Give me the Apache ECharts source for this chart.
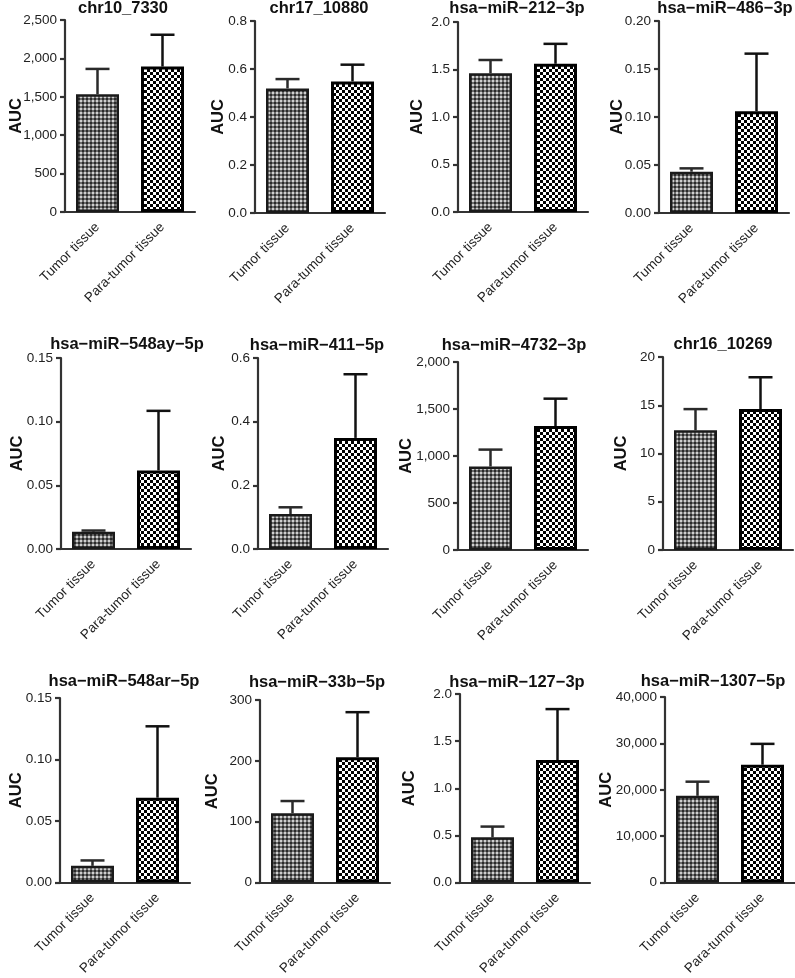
<!DOCTYPE html>
<html><head><meta charset="utf-8">
<script src="https://cdn.jsdelivr.net/npm/echarts@6/dist/echarts.min.js"></script>
<style>html,body{margin:0;padding:0;background:#fff}#c{width:795px;height:978px}</style>
</head><body><div id="c"></div>
<script>
// ---------- data ----------
const titles = ['chr10_7330','chr17_10880','hsa\u2212miR\u2212212\u22123p','hsa\u2212miR\u2212486\u22123p',
  'hsa\u2212miR\u2212548ay\u22125p','hsa\u2212miR\u2212411\u22125p','hsa\u2212miR\u22124732\u22123p','chr16_10269',
  'hsa\u2212miR\u2212548ar\u22125p','hsa\u2212miR\u221233b\u22125p','hsa\u2212miR\u2212127\u22123p','hsa\u2212miR\u22121307\u22125p'];
const categories = ['Tumor tissue','Para-tumor tissue'];
const tumorMean = [1533, 0.519, 1.46, 0.043, 0.0135, 0.110, 888, 12.4, 0.0136, 114, 0.48, 18700];
const tumorErr  = [330, 0.039, 0.14, 0.0035, 0.0010, 0.021, 180, 2.2, 0.0044, 20, 0.114, 3050];
const paraMean  = [1893, 0.548, 1.56, 0.106, 0.0617, 0.349, 1318, 14.6, 0.069, 206, 1.30, 25400];
const paraErr   = [415, 0.070, 0.21, 0.060, 0.0468, 0.200, 292, 3.3, 0.058, 74, 0.54, 4500];
const axisMax   = [2500, 0.8, 2, 0.2, 0.15, 0.6, 2000, 20, 0.15, 300, 2, 40000];
const axisStep  = [500, 0.2, 0.5, 0.05, 0.05, 0.2, 500, 5, 0.05, 100, 0.5, 10000];
const labelDecimals = [0, 1, 1, 2, 2, 1, 0, 0, 2, 0, 1, 0];
const yName = 'AUC';

// ---------- layout (pixels) ----------
// [gridLeft, gridTop, zeroY, titleCenterX, titleTop, nameGap]
const layout = [
  [65, 20, 212, 123, 0, 40],
  [255, 21, 213, 319, 0, 28],
  [458, 22, 212, 517, 0, 32],
  [659, 21, 213, 725, 0, 33],
  [61, 358, 549, 127, 336, 35],
  [258, 358, 549, 317, 337, 30],
  [458, 362, 550, 514, 337, 43],
  [663, 357, 550, 723, 336, 33],
  [60, 698, 889, 124, 673, 35],
  [260, 700, 888, 317, 674, 39],
  [460, 694, 888, 517, 674, 42],
  [665, 697, 888, 713, 673, 50]
];
const gridW = 130;
const FONT = '"Liberation Sans", Arial, sans-serif';

// ---------- patterns ----------
function tumorPattern() {
  const c = document.createElement('canvas'); c.width = 4; c.height = 4;
  const g = c.getContext('2d');
  g.fillStyle = '#6c6c6c'; g.fillRect(0, 0, 4, 4);
  g.fillStyle = '#cfcfcf'; g.fillRect(0, 0, 2, 2);
  g.fillStyle = '#2a2a2a'; g.fillRect(2, 2, 2, 2);
  return c;
}
function paraPattern() {
  const c = document.createElement('canvas'); c.width = 6; c.height = 6;
  const g = c.getContext('2d');
  g.fillStyle = '#ffffff'; g.fillRect(0, 0, 6, 6);
  g.fillStyle = '#000000'; g.fillRect(0, 0, 3, 3); g.fillRect(3, 3, 3, 3);
  return c;
}
const tPat = tumorPattern(), pPat = paraPattern();

function fmt(v, d) {
  if (d === 0) return String(Math.round(v)).replace(/\B(?=(\d{3})+(?!\d))/g, ',');
  return Number(v).toFixed(d);
}

const title = [], grid = [], xAxis = [], yAxis = [], series = [];
for (let i = 0; i < 12; i++) {
  const [gl, gt, zy, tcx, tt, ng] = layout[i];
  title.push({ text: titles[i], left: tcx, top: tt, textAlign: 'center', padding: 0,
    textStyle: { fontFamily: FONT, fontSize: 16.5, fontWeight: 'bold', color: '#111' } });
  grid.push({ left: gl, top: gt, width: gridW, height: zy - gt, containLabel: false });
  xAxis.push({ type: 'category', gridIndex: i, data: categories,
    axisLine: { lineStyle: { color: '#333', width: 2.2 } },
    axisTick: { alignWithLabel: true, length: 7, lineStyle: { color: '#333', width: 2.2 } },
    axisLabel: { rotate: 45, margin: 13, fontFamily: FONT, fontSize: 13.5, color: '#222', interval: 0 } });
  yAxis.push({ type: 'value', gridIndex: i, min: 0, max: axisMax[i], interval: axisStep[i],
    name: yName, nameLocation: 'middle', nameGap: ng, nameMoveOverlap: false,
    nameTextStyle: { fontFamily: FONT, fontSize: 16.5, fontWeight: 'bold', color: '#111' },
    axisLine: { show: true, lineStyle: { color: '#333', width: 2.2 } },
    axisTick: { show: true, length: 5, lineStyle: { color: '#333', width: 2.2 } },
    splitLine: { show: false },
    axisLabel: { margin: 8, fontFamily: FONT, fontSize: 13.5, color: '#222',
      formatter: (v) => fmt(v, labelDecimals[i]) } });
  series.push({ type: 'bar', xAxisIndex: i, yAxisIndex: i, barWidth: 43, animation: false,
    data: [
      { value: tumorMean[i], itemStyle: { color: { image: tPat, repeat: 'repeat' }, borderColor: '#1a1a1a', borderWidth: 2.5 } },
      { value: paraMean[i], itemStyle: { color: { image: pPat, repeat: 'repeat' }, borderColor: '#000', borderWidth: 3 } }
    ] });
  series.push({ type: 'custom', xAxisIndex: i, yAxisIndex: i, animation: false, z: 5,
    encode: { x: 0, y: 1 },
    data: [[0, tumorMean[i], tumorErr[i]], [1, paraMean[i], paraErr[i]]],
    renderItem: function (params, api) {
      const x = api.value(0), m = api.value(1), e = api.value(2);
      const p0 = api.coord([x, m]);
      const p1 = api.coord([x, m + e]);
      const hw = 12;
      const col = x === 0 ? '#2a2a2a' : '#111';
      return { type: 'group', children: [
        { type: 'line', shape: { x1: p0[0], y1: p0[1], x2: p1[0], y2: p1[1] }, style: { stroke: col, lineWidth: 2.5 } },
        { type: 'line', shape: { x1: p1[0] - hw, y1: p1[1], x2: p1[0] + hw, y2: p1[1] }, style: { stroke: col, lineWidth: 2.5 } }
      ] };
    } });
}

const chart = echarts.init(document.getElementById('c'), null, { renderer: 'canvas' });
chart.setOption({ backgroundColor: '#fff', animation: false, title, grid, xAxis, yAxis, series });
</script></body></html>
